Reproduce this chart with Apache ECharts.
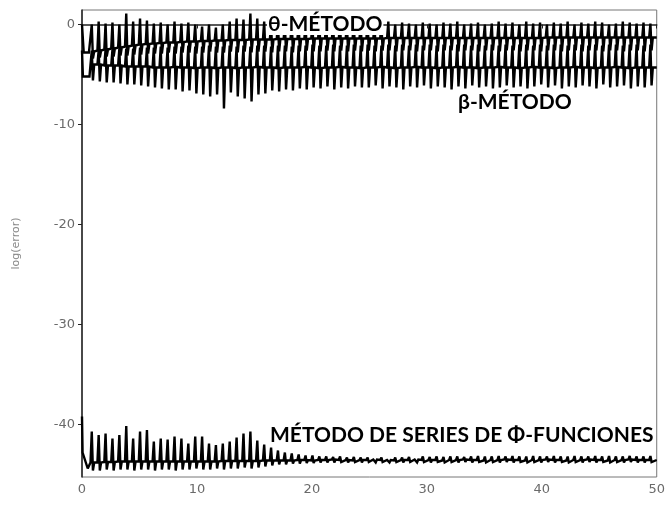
<!DOCTYPE html>
<html><head><meta charset="utf-8">
<script src="https://cdn.jsdelivr.net/npm/echarts@6/dist/echarts.min.js"></script>
<style>html,body{margin:0;padding:0;background:#fff}#c{width:668px;height:506px}</style>
</head><body><div id="c"></div>
<script>
// x positions of the oscillation cycles
const cycleX = [0.9,1.5,2.1,2.7,3.3,3.9,4.5,5.1,5.7,6.3,
6.9,7.5,8.1,8.7,9.3,9.9,10.5,11.1,11.7,12.3,
12.9,13.5,14.1,14.7,15.3,15.9,16.5,17.1,17.7,18.3,
18.9,19.5,20.1,20.7,21.3,21.9,22.5,23.1,23.7,24.3,
24.9,25.5,26.1,26.7,27.3,27.9,28.5,29.1,29.7,30.3,
30.9,31.5,32.1,32.7,33.3,33.9,34.5,35.1,35.7,36.3,
36.9,37.5,38.1,38.7,39.3,39.9,40.5,41.1,41.7,42.3,
42.9,43.5,44.1,44.7,45.3,45.9,46.5,47.1,47.7,48.3,
48.9,49.5];
const xEnd = 50;

// theta-method
const thetaStart = [[0,0.0],[0.15,-2.8],[0.6,-2.8]];
const thetaBase = [-2.7,-2.6,-2.5,-2.4,-2.3,-2.2,-2.1,-2.0,-1.95,-1.9,
-1.85,-1.8,-1.8,-1.75,-1.7,-1.7,-1.65,-1.65,-1.6,-1.6,
-1.55,-1.55,-1.55,-1.5,-1.5,-1.5,-1.5,-1.45,-1.45,-1.45,
-1.45,-1.45,-1.4,-1.4,-1.4,-1.4,-1.4,-1.4,-1.4,-1.4,
-1.4,-1.4,-1.4,-1.35,-1.35,-1.35,-1.35,-1.35,-1.35,-1.35,
-1.35,-1.35,-1.35,-1.35,-1.35,-1.35,-1.35,-1.35,-1.35,-1.35,
-1.35,-1.35,-1.35,-1.35,-1.35,-1.35,-1.3,-1.3,-1.3,-1.3,
-1.3,-1.3,-1.3,-1.3,-1.3,-1.3,-1.3,-1.3,-1.3,-1.3,
-1.3,-1.3];
const thetaHigh = [0.0,0.3,0.1,0.2,0.0,1.1,0.3,0.6,0.4,0.1,
0.2,0.0,0.3,0.1,0.2,0.0,-0.2,0.0,-0.3,0.0,
0.3,0.6,0.5,1.1,0.6,0.3,0.0,0.1,-0.1,0.2,
0.0,0.1,-0.1,0.2,0.0,0.1,0.0,-0.1,0.1,0.0,
0.2,0.0,0.1,0.3,0.0,0.2,0.1,0.0,0.2,0.1,
0.0,0.2,0.1,0.3,0.0,0.1,0.2,0.0,0.1,0.3,
0.1,0.2,0.0,0.3,0.1,0.2,0.0,0.2,0.1,0.3,
0.0,0.2,0.1,0.3,0.2,0.0,0.1,0.3,0.2,0.1,
0.2,0.1];
const thetaLow = [-3.4,-3.3,-3.2,-3.2,-3.1,-3.1,-3.0,-3.0,-2.9,-2.9,
-2.9,-2.8,-2.9,-2.8,-2.8,-2.9,-2.8,-2.7,-2.8,-2.8,
-2.7,-2.8,-2.7,-2.8,-2.7,-2.7,-2.8,-2.7,-2.7,-2.8,
-2.7,-2.6,-2.7,-2.7,-2.6,-2.7,-2.6,-2.7,-2.6,-2.7,
-2.6,-2.7,-2.6,-2.6,-2.7,-2.6,-2.6,-2.7,-2.6,-2.6,
-2.7,-2.6,-2.6,-2.7,-2.6,-2.6,-2.7,-2.6,-2.6,-2.7,
-2.6,-2.6,-2.7,-2.6,-2.6,-2.7,-2.6,-2.6,-2.7,-2.6,
-2.6,-2.7,-2.6,-2.6,-2.7,-2.6,-2.6,-2.7,-2.6,-2.6,
-2.7,-2.6];

// beta-method
const betaStart = [[0,-2.6],[0.08,-5.2],[0.65,-5.2]];
const betaBase = [-4.0,-4.0,-4.1,-4.1,-4.1,-4.2,-4.2,-4.2,-4.2,-4.3,
-4.3,-4.3,-4.25,-4.3,-4.3,-4.35,-4.3,-4.3,-4.35,-4.3,
-4.3,-4.35,-4.3,-4.3,-4.25,-4.3,-4.3,-4.35,-4.3,-4.3,
-4.3,-4.25,-4.3,-4.35,-4.3,-4.3,-4.25,-4.3,-4.3,-4.35,
-4.3,-4.3,-4.25,-4.3,-4.35,-4.3,-4.3,-4.25,-4.3,-4.3,
-4.35,-4.3,-4.3,-4.25,-4.3,-4.3,-4.35,-4.3,-4.3,-4.25,
-4.3,-4.3,-4.35,-4.3,-4.25,-4.3,-4.3,-4.35,-4.3,-4.3,
-4.25,-4.3,-4.3,-4.35,-4.3,-4.3,-4.25,-4.3,-4.35,-4.3,
-4.3,-4.3];
const betaHigh = [-2.6,-2.6,-2.5,-2.5,-2.4,-2.4,-2.4,-2.3,-2.3,-2.3,
-2.2,-2.3,-2.2,-2.2,-2.1,-2.2,-2.2,-2.1,-2.2,-2.2,
-2.1,-2.2,-2.1,-2.2,-2.1,-2.1,-2.2,-2.1,-2.1,-2.2,
-2.1,-2.1,-2.0,-2.1,-2.1,-2.0,-2.1,-2.1,-2.0,-2.1,
-2.0,-2.1,-2.1,-2.0,-2.1,-2.0,-2.1,-2.0,-2.1,-2.0,
-2.1,-2.0,-2.1,-2.0,-2.0,-2.1,-2.0,-2.1,-2.0,-2.1,
-2.0,-2.1,-2.0,-2.0,-2.1,-2.0,-2.1,-2.0,-2.0,-2.1,
-2.0,-2.0,-2.1,-2.0,-2.1,-2.0,-2.0,-2.1,-2.0,-2.0,
-2.1,-2.0];
const betaLow = [-5.6,-5.7,-5.8,-5.8,-5.9,-6.0,-6.0,-6.1,-6.2,-6.3,
-6.4,-6.5,-6.5,-6.7,-6.6,-6.9,-7.0,-7.2,-7.0,-8.4,
-6.8,-7.2,-7.4,-7.7,-7.0,-6.9,-6.6,-6.7,-6.5,-6.6,
-6.4,-6.5,-6.3,-6.4,-6.2,-6.5,-6.3,-6.4,-6.2,-6.3,
-6.3,-6.1,-6.4,-6.2,-6.3,-6.5,-6.2,-6.3,-6.1,-6.4,
-6.2,-6.3,-6.5,-6.2,-6.4,-6.1,-6.3,-6.2,-6.4,-6.3,
-6.1,-6.3,-6.2,-6.4,-6.2,-6.0,-6.3,-6.1,-6.4,-6.2,
-6.3,-6.1,-6.2,-6.4,-6.0,-6.3,-6.2,-6.1,-6.4,-6.2,
-6.3,-6.1];

// Phi-function series method
const phiStart = [[0,-39.2],[0.05,-42.8],[0.5,-44.4]];
const phiBase = [-43.8,-43.8,-43.75,-43.75,-43.7,-43.7,-43.7,-43.7,-43.7,-43.7,
-43.7,-43.7,-43.7,-43.7,-43.7,-43.7,-43.7,-43.7,-43.7,-43.65,
-43.65,-43.65,-43.65,-43.65,-43.65,-43.6,-43.6,-43.6,-43.6,-43.6,
-43.55,-43.55,-43.6,-43.55,-43.55,-43.5,-43.55,-43.55,-43.6,-43.55,
-43.55,-43.5,-43.55,-43.55,-43.6,-43.55,-43.55,-43.5,-43.55,-43.55,
-43.55,-43.6,-43.55,-43.55,-43.5,-43.55,-43.55,-43.6,-43.55,-43.55,
-43.5,-43.55,-43.55,-43.6,-43.55,-43.55,-43.5,-43.55,-43.55,-43.6,
-43.55,-43.55,-43.5,-43.55,-43.55,-43.6,-43.55,-43.55,-43.5,-43.55,
-43.55,-43.55];
const phiHigh = [-40.7,-41.05,-40.9,-41.4,-41.05,-40.15,-41.4,-40.7,-40.55,-41.7,
-41.4,-41.5,-41.2,-41.4,-41.9,-41.2,-41.2,-41.9,-42.05,-41.9,
-41.7,-41.3,-40.9,-40.7,-41.6,-42.0,-42.3,-42.6,-42.8,-42.9,
-43.0,-43.1,-43.1,-43.2,-43.2,-43.25,-43.2,-43.3,-43.25,-43.3,
-43.3,-43.35,-43.3,-43.35,-43.3,-43.3,-43.25,-43.3,-43.2,-43.25,
-43.2,-43.25,-43.2,-43.2,-43.25,-43.2,-43.15,-43.2,-43.2,-43.15,
-43.2,-43.15,-43.2,-43.2,-43.15,-43.2,-43.2,-43.15,-43.2,-43.2,
-43.15,-43.2,-43.2,-43.15,-43.2,-43.15,-43.2,-43.2,-43.15,-43.2,
-43.2,-43.15];
const phiLow = [-44.6,-44.6,-44.5,-44.6,-44.5,-44.5,-44.6,-44.5,-44.5,-44.6,
-44.5,-44.5,-44.6,-44.5,-44.5,-44.4,-44.5,-44.5,-44.4,-44.5,
-44.4,-44.4,-44.3,-44.4,-44.3,-44.2,-44.1,-44.0,-44.0,-43.9,
-43.9,-43.85,-43.85,-43.8,-43.8,-43.8,-43.75,-43.8,-43.75,-43.8,
-43.75,-43.8,-43.75,-43.8,-43.75,-43.8,-43.75,-43.8,-43.75,-43.8,
-43.75,-43.8,-43.75,-43.8,-43.75,-43.8,-43.75,-43.8,-43.75,-43.8,
-43.75,-43.8,-43.75,-43.8,-43.75,-43.8,-43.75,-43.8,-43.75,-43.8,
-43.75,-43.8,-43.75,-43.8,-43.75,-43.8,-43.75,-43.8,-43.75,-43.8,
-43.8,-43.75];

const xTicks = [0,10,20,30,40,50];
const yTicks = [0,-10,-20,-30,-40];
const yMin = -45.25, yMax = 1.45;

function build(start, base, hi, lo) {
  const d = start.slice();
  for (let i = 0; i < cycleX.length; i++) {
    const x = cycleX[i];
    d.push([x - 0.16, base[i]], [x - 0.05, hi[i]], [x + 0.05, lo[i]], [x + 0.16, base[i]]);
  }
  d.push([xEnd, base[base.length - 1]]);
  return d;
}

const chart = echarts.init(document.getElementById('c'), null, {renderer: 'canvas'});
const lineStyle = {color: '#000', width: 2.4, join: 'miter', miterLimit: 2};
const labFont = {color: '#6a6a6a', fontFamily: 'DejaVu Sans', fontSize: 13};
chart.setOption({
  animation: false,
  backgroundColor: '#fff',
  grid: {left: 82, right: 5, top: 10, bottom: 29, show: true, borderColor: '#777', borderWidth: 1},
  xAxis: {
    type: 'value', min: 0, max: 50, interval: 10,
    axisLine: {lineStyle: {color: '#222', width: 1.5}},
    axisTick: {show: true, length: 4, lineStyle: {color: '#222'}},
    axisLabel: Object.assign({margin: 6}, labFont),
    splitLine: {show: false}
  },
  yAxis: {
    type: 'value', min: yMin, max: yMax,
    name: 'log(error)', nameLocation: 'middle', nameGap: 60,
    nameTextStyle: {color: '#8a8a8a', fontFamily: 'DejaVu Sans', fontSize: 11},
    axisLine: {show: true, lineStyle: {color: '#222', width: 1.5}},
    axisTick: {show: true, length: 4, customValues: yTicks, lineStyle: {color: '#222'}},
    axisLabel: Object.assign({margin: 7, customValues: yTicks}, labFont),
    splitLine: {show: false}
  },
  series: [
    {name: 'θ-MÉTODO', type: 'line', symbol: 'none', lineStyle: lineStyle, data: build(thetaStart, thetaBase, thetaHigh, thetaLow)},
    {name: 'β-MÉTODO', type: 'line', symbol: 'none', lineStyle: lineStyle, data: build(betaStart, betaBase, betaHigh, betaLow)},
    {name: 'MÉTODO DE SERIES DE Φ-FUNCIONES', type: 'line', symbol: 'none', lineStyle: lineStyle, data: build(phiStart, phiBase, phiHigh, phiLow)}
  ],
  graphic: [
    {type: 'text', left: 267, top: 14, z: 100, style: {text: 'θ-MÉTODO', fill: '#000', font: 'bold 21px Lato', backgroundColor: '#fff', padding: [0, 1]}},
    {type: 'text', left: 458, top: 92, z: 100, style: {text: 'β-MÉTODO', fill: '#000', font: 'bold 21px Lato'}},
    {type: 'text', left: 270, top: 425, z: 100, style: {text: 'MÉTODO DE SERIES DE Φ-FUNCIONES', fill: '#000', font: 'bold 21px Lato'}}
  ]
});
</script>
</body></html>
